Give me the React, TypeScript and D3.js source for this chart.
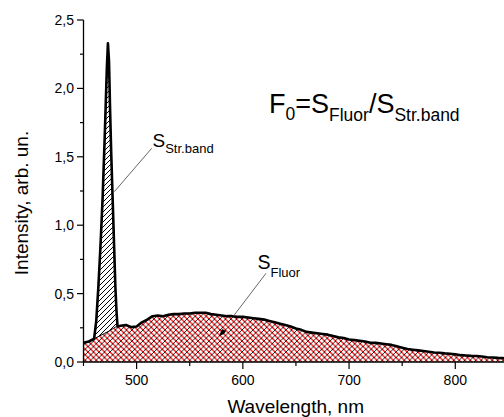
import React from "react";
import * as d3 from "d3";

const fluorWl = [450,455,460,465,470,475,480,485,490,495,500,505,510,515,520,525,530,535,540,545,550,555,560,565,570,575,580,585,590,595,600,605,610,615,620,625,630,635,640,645,650,655,660,665,670,675,680,685,690,695,700,705,710,715,720,725,730,735,740,745,750,755,760,765,770,775,780,785,790,795,800,805,810,815,820,825,830,835,840,845,850];
const fluorVal = [0.14,0.15,0.17,0.19,0.21,0.23,0.255,0.265,0.27,0.255,0.26,0.29,0.31,0.335,0.34,0.335,0.345,0.35,0.35,0.355,0.355,0.36,0.36,0.36,0.35,0.345,0.34,0.335,0.335,0.33,0.33,0.325,0.32,0.315,0.31,0.30,0.29,0.28,0.27,0.26,0.245,0.235,0.22,0.215,0.21,0.205,0.20,0.19,0.18,0.175,0.165,0.16,0.155,0.15,0.14,0.14,0.135,0.13,0.125,0.115,0.105,0.095,0.09,0.085,0.08,0.075,0.07,0.068,0.063,0.06,0.056,0.05,0.048,0.045,0.044,0.04,0.035,0.033,0.03,0.028,0.025];

const spikeWl = [460,462,464,466,468,470,471,472,473,474,475,476,477,478,479,480,481,482];
const spikeVal = [0.17,0.30,0.55,0.85,1.20,1.65,1.90,2.15,2.33,2.20,1.85,1.55,1.30,1.05,0.80,0.55,0.38,0.26];

const xMajor = [500, 600, 700, 800];
const xMinor = [450, 550, 650, 750, 850];
const yMajor = [0, 0.5, 1.0, 1.5, 2.0, 2.5];
const yMinor = [0.25, 0.75, 1.25, 1.75, 2.25];

const FONT = "Arial, 'Liberation Sans', sans-serif";

export default function App() {
  const W = 504, H = 417;
  const x = d3.scaleLinear().domain([450, 850]).range([83.5, 508.4]);
  const y = d3.scaleLinear().domain([0, 2.5]).range([362, 20]);

  const fluor = fluorWl.map((w, i) => ({ w, v: fluorVal[i] }));
  const spike = spikeWl.map((w, i) => ({ w, v: spikeVal[i] }));
  const interp = (w: number) => {
    const i = d3.bisectLeft(fluorWl, w);
    if (fluorWl[i] === w) return fluorVal[i];
    const w0 = fluorWl[i - 1], w1 = fluorWl[i];
    const t = (w - w0) / (w1 - w0);
    return fluorVal[i - 1] * (1 - t) + fluorVal[i] * t;
  };
  const sStart = spikeWl[0], sEnd = spikeWl[spikeWl.length - 1];
  const under = [
    { w: sStart, v: interp(sStart) },
    ...fluor.filter(d => d.w > sStart && d.w < sEnd),
    { w: sEnd, v: interp(sEnd) },
  ];

  const area = d3.area<{ w: number; v: number }>()
    .x(d => x(d.w)).y0(y(0)).y1(d => y(d.v));
  const line = d3.line<{ w: number; v: number }>()
    .x(d => x(d.w)).y(d => y(d.v));

  const spikePoly = [...spike, ...under.slice().reverse()];
  const top = [
    ...fluor.filter(d => d.w < sStart),
    ...spike,
    ...fluor.filter(d => d.w > sEnd),
  ];

  return (
    <svg width={W} height={H} style={{ position: "absolute", left: 0, top: 0, background: "#fff" }}>
      <defs>
        <pattern id="hatch" patternUnits="userSpaceOnUse" width={5} height={5}>
          <rect width={5} height={5} fill="#fff" />
          <path d="M-1,1 L1,-1 M0,5 L5,0 M4,6 L6,4" stroke="#000" strokeWidth={1} />
        </pattern>
        <pattern id="cross" patternUnits="userSpaceOnUse" width={5.5} height={5.5}>
          <rect width={5.5} height={5.5} fill="#fff" />
          <path d="M-1,-1 L6.5,6.5 M-1,4.5 L1,6.5 M4.5,-1 L6.5,1" stroke="#ff0000" strokeWidth={1.2} />
          <path d="M-1,1 L1,-1 M0,5.5 L5.5,0 M4.5,6.5 L6.5,4.5" stroke="#000" strokeWidth={0.9} />
        </pattern>
        <clipPath id="clip">
          <rect x={0} y={0} width={W} height={H} />
        </clipPath>
      </defs>

      <g clipPath="url(#clip)">
        <path d={area(fluor) || ""} fill="url(#cross)" />
        <path d={(line(spikePoly) || "") + "Z"} fill="url(#hatch)" />
        <path d={line(under) || ""} fill="none" stroke="#000" strokeWidth={1} />
        <path d={line(top) || ""} fill="none" stroke="#000" strokeWidth={2.6} strokeLinejoin="round" />
      </g>

      {/* axes */}
      <line x1={83.5} x2={W} y1={362} y2={362} stroke="#000" strokeWidth={1.3} />
      <line x1={83.5} x2={83.5} y1={20} y2={362} stroke="#000" strokeWidth={1.3} />
      {xMajor.map(t => (
        <g key={"xm" + t}>
          <line x1={x(t)} x2={x(t)} y1={362} y2={369} stroke="#000" strokeWidth={1.2} />
          <text x={x(t)} y={385} textAnchor="middle" fontSize={14} fontFamily={FONT}>{t}</text>
        </g>
      ))}
      {xMinor.map(t => (
        <line key={"xn" + t} x1={x(t)} x2={x(t)} y1={362} y2={366} stroke="#000" strokeWidth={1.2} />
      ))}
      {yMajor.map(t => (
        <g key={"ym" + t}>
          <line x1={77} x2={83.5} y1={y(t)} y2={y(t)} stroke="#000" strokeWidth={1.2} />
          <text x={74} y={y(t) + 5} textAnchor="end" fontSize={14} fontFamily={FONT}>
            {d3.format(".1f")(t).replace(".", ",")}
          </text>
        </g>
      ))}
      {yMinor.map(t => (
        <line key={"yn" + t} x1={80} x2={83.5} y1={y(t)} y2={y(t)} stroke="#000" strokeWidth={1.2} />
      ))}

      <text x={295.7} y={413} textAnchor="middle" fontSize={19} fontFamily={FONT}>Wavelength, nm</text>
      <text transform="translate(28,203) rotate(-90)" textAnchor="middle" fontSize={19} fontFamily={FONT}>
        Intensity, arb. un.
      </text>

      {/* annotations */}
      <line x1={151.7} y1={148.3} x2={114.3} y2={191.7} stroke="#555" strokeWidth={0.9} />
      <text x={152.5} y={146.7} fontSize={19} fontFamily={FONT}>
        S<tspan fontSize={13} dy={6.6}>Str.band</tspan>
      </text>

      <line x1={266} y1={273.3} x2={233.5} y2={316} stroke="#555" strokeWidth={0.9} />
      <text x={257.5} y={269.3} fontSize={19.5} fontFamily={FONT}>
        S<tspan fontSize={13} dy={7.4}>Fluor</tspan>
      </text>
      <path d="M219,336 L222,329 L226,331 L224,334 Z" fill="#000" />

      <text x={269} y={112.7} fontSize={27} fontFamily={FONT}>
        F<tspan fontSize={17.5} dy={7.3}>0</tspan>
        <tspan fontSize={27} dy={-7.3}>=S</tspan>
        <tspan fontSize={17.5} dy={7.8}>Fluor</tspan>
        <tspan fontSize={27} dy={-7.8}>/S</tspan>
        <tspan fontSize={17.5} dy={7.8}>Str.band</tspan>
      </text>
    </svg>
  );
}
